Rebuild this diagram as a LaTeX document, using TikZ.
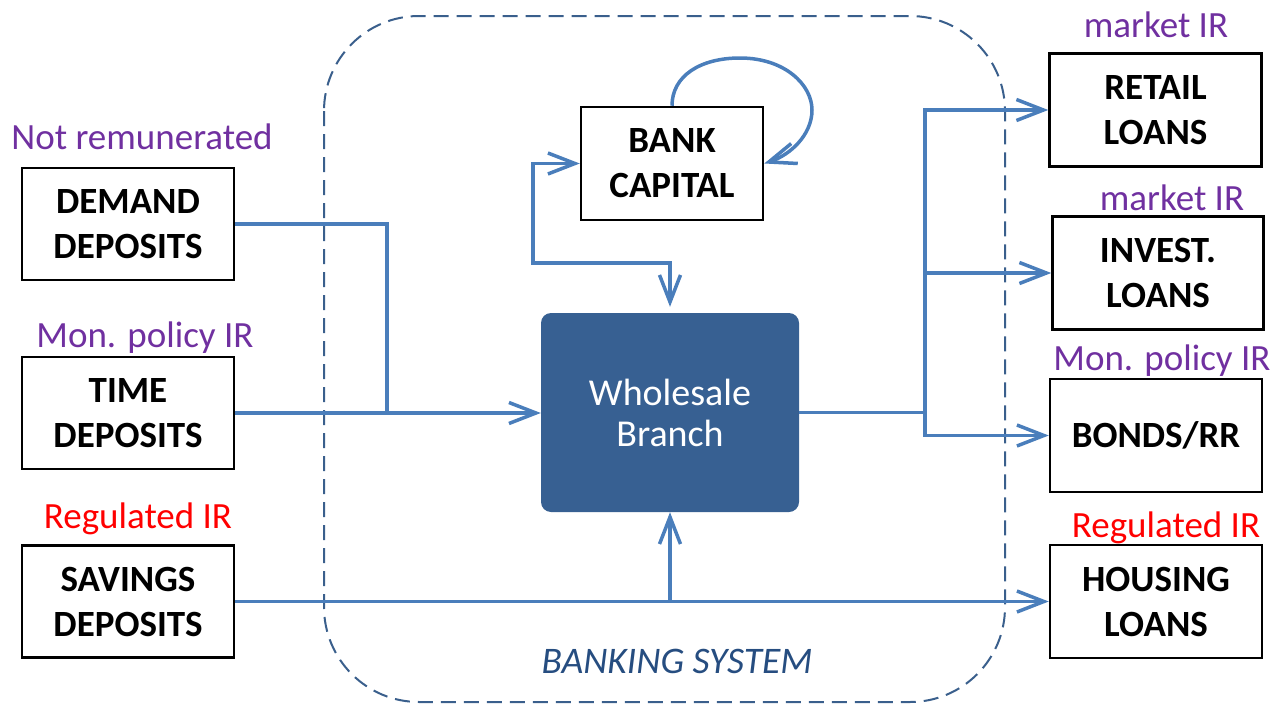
\documentclass[tikz,border=0pt]{standalone}
\usepackage{fontspec}
\setmainfont{Carlito}
\usetikzlibrary{arrows.meta}
\definecolor{lineblue}{HTML}{4A7EBB}
\definecolor{whfill}{HTML}{376092}
\definecolor{dashblue}{HTML}{3A5F8C}
\definecolor{sysblue}{HTML}{264D80}
\definecolor{lblpurple}{HTML}{7030A0}
\definecolor{lblred}{HTML}{FF0000}
\begin{document}
\begin{tikzpicture}[x=1pt,y=-1pt,
 box/.style={draw=black,line width=2.5pt,minimum width=212pt,minimum height=112pt,inner sep=0pt,align=center,font=\fontsize{37}{45}\selectfont\bfseries},
 lbl/.style={anchor=base,inner sep=0pt,font=\fontsize{37}{44}\selectfont},
 conn/.style={draw=lineblue,line width=3.5pt},
 arr/.style={conn,-{Straight Barb[length=27pt,width=21pt]}},
 dbl/.style={conn,{Straight Barb[length=27pt,width=21pt]}-{Straight Barb[length=27pt,width=21pt]}}]
\useasboundingbox (0,0) rectangle (1272,704);
% banking system frame
\draw[dashblue,line width=2pt,dash pattern=on 15pt off 8pt,rounded corners=95pt] (324,16) rectangle (1005,702);
\node[anchor=base,inner sep=0pt,text=sysblue,font=\fontsize{37.5}{44}\selectfont\itshape] (sys) at (677,673) {BANKING SYSTEM};
% left boxes
\node[box] (demand) at (128,224) {DEMAND\\DEPOSITS};
\node[box] (time) at (128,413) {TIME\\DEPOSITS};
\node[box] (sav) at (128,601.5) {SAVINGS\\DEPOSITS};
% centre
\node[box,minimum width=182pt,minimum height=113pt] (bc) at (672,163.5) {BANK\\CAPITAL};
\node[fill=whfill,rounded corners=10pt,minimum width=258pt,minimum height=199pt,inner sep=0pt,text=white,align=center,font=\fontsize{38}{41}\selectfont] (wh) at (670,412.5) {Wholesale\\Branch};
% right boxes
\node[box,minimum height=113pt] (retail) at (1155.5,110) {RETAIL\\LOANS};
\node[box,minimum width=211pt,minimum height=113pt] (invest) at (1158,273) {INVEST.\\LOANS};
\node[box,minimum height=113pt] (bonds) at (1156,435.5) {BONDS/RR};
\node[box,minimum height=113pt] (housing) at (1156,601.5) {HOUSING\\LOANS};
% labels
\node[lbl,text=lblpurple] (l1) at (142,149) {Not remunerated};
\node[lbl,text=lblpurple] (l2) at (145,347) {Mon. policy IR};
\node[lbl,text=lblred] (l3) at (138,528) {Regulated IR};
\node[lbl,text=lblpurple] (r1) at (1156,37) {market IR};
\node[lbl,text=lblpurple] (r2) at (1172,210) {market IR};
\node[lbl,text=lblpurple] (r3) at (1162,370) {Mon. policy IR};
\node[lbl,text=lblred] (r4) at (1166,537) {Regulated IR};
% connectors
\coordinate (j1) at (387,413);
\draw[conn] (demand.east) -| (j1);
\draw[arr] (time.east) -- (time.east -| wh.west);
\draw[arr] (sav.east) -- (housing.west);
\coordinate (j2) at (sav.east -| wh.south);
\draw[arr] (j2) -- (wh.south);
\coordinate (hub) at (925,412.5);
\draw[conn] (wh.east) -- (hub);
\draw[arr] (hub) |- (retail.west);
\draw[arr] (hub) |- (invest.west);
\draw[arr] (hub) |- (bonds.west);
\coordinate (c1) at (533,263);
\draw[dbl,shorten >=6pt] (bc.west) -| (c1) -| (wh.north);
\coordinate (lp1) at (740,58);
\coordinate (lp2) at (812,110);
\draw[arr] (bc.north) .. controls (672,76) and (700,58) .. (lp1) .. controls (785,58) and (812,85) .. (lp2) .. controls (812,135) and (790,155) .. (bc.east);
\end{tikzpicture}
\end{document}
